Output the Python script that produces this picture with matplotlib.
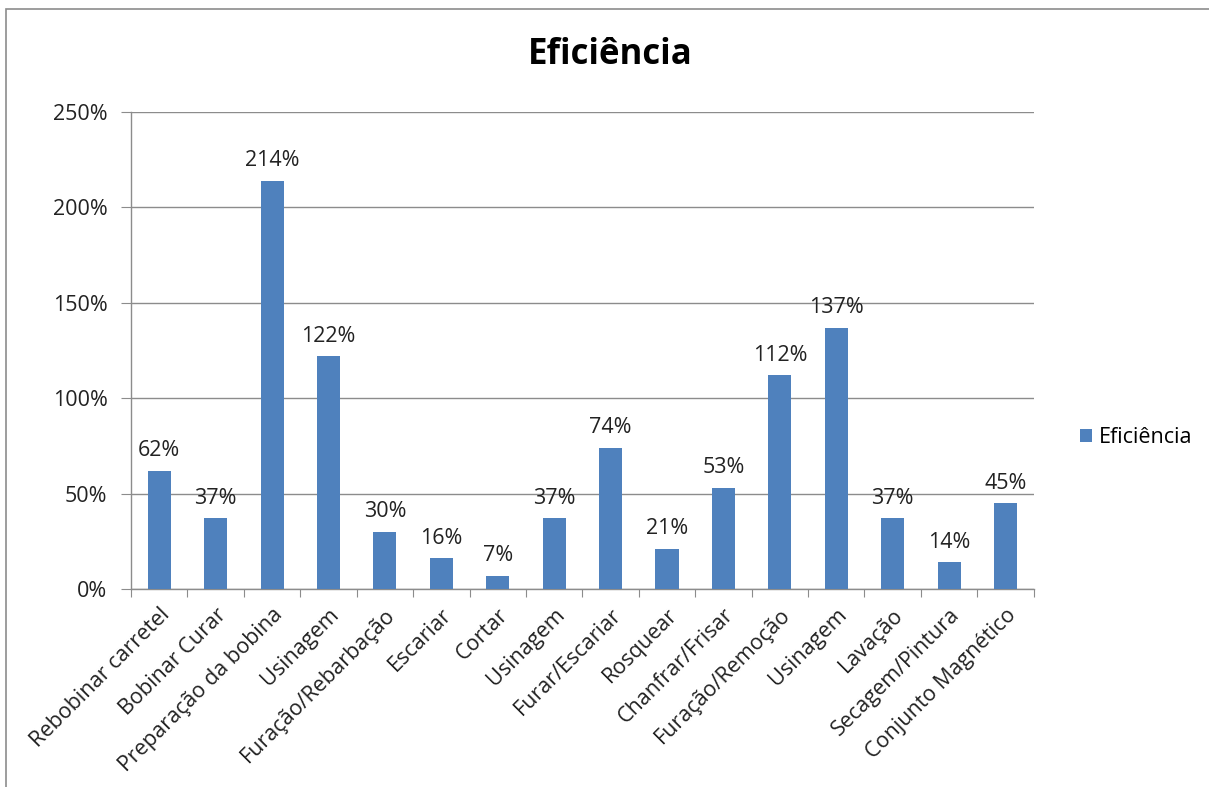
import numpy as np
from matplotlib import pyplot as plt
from matplotlib.patches import Rectangle
from matplotlib.ticker import FuncFormatter

etapas = ['Rebobinar carretel', 'Bobinar Curar', 'Preparação da bobina', 'Usinagem',
          'Furação/Rebarbação', 'Escariar', 'Cortar', 'Usinagem', 'Furar/Escariar',
          'Rosquear', 'Chanfrar/Frisar', 'Furação/Remoção', 'Usinagem', 'Lavação',
          'Secagem/Pintura', 'Conjunto Magnético']
eficiencia = [62, 37, 214, 122, 30, 16, 7, 37, 74, 21, 53, 112, 137, 37, 14, 45]

plt.rcParams['font.family'] = ['Open Sans', 'DejaVu Sans']
FS = 15.5

fig = plt.figure(figsize=(12.09, 7.87), dpi=100)
ax = fig.add_axes([0.1084, 0.2516, 0.7466, 0.6061])

# chart frame (only top/left edges fall inside the image)
fig.patches.append(Rectangle((6 / 1209, -0.1), 1.2, 1 - 9 / 787 + 0.1,
                             transform=fig.transFigure, fill=False,
                             edgecolor='#8c8c8c', linewidth=1.2))

inds = np.arange(len(etapas))
bars = ax.bar(inds, eficiencia, width=0.41, color='#4f81bd', label='Eficiência', zorder=3)

for x, v in zip(inds, eficiencia):
	ax.text(x, v + 5, '%d%%' % v, ha='center', va='bottom', fontsize=FS, color='#222222')

ax.set_xlim(-0.5, len(etapas) - 0.5)
ax.set_ylim(0, 250)
ax.set_yticks(np.arange(0, 251, 50))
ax.yaxis.set_major_formatter(FuncFormatter(lambda v, p: '%d%%' % v))
ax.yaxis.grid(True, color='#8c8c8c', linewidth=1.0, zorder=0)

# ticks sit between categories, labels at category centers
ax.set_xticks(np.arange(-0.5, len(etapas), 1.0))
ax.set_xticklabels([])
ax.set_xticks(inds, minor=True)
ax.set_xticklabels(etapas, minor=True, rotation=45, ha='right', rotation_mode='anchor',
                   fontsize=FS, color='#222222')
ax.tick_params(axis='x', which='minor', length=0, pad=11)
ax.tick_params(axis='x', which='major', length=6, color='#8c8c8c', direction='out')
ax.tick_params(axis='y', length=7, color='#8c8c8c', labelsize=FS, labelcolor='#222222', pad=10)

for s in ['top', 'right']:
	ax.spines[s].set_visible(False)
for s in ['left', 'bottom']:
	ax.spines[s].set_color('#8c8c8c')
	ax.spines[s].set_linewidth(1.0)

fig.text(0.505, 0.93, 'Eficiência', ha='center', va='center', fontsize=25, fontweight='bold')

ax.legend(loc='center left', bbox_to_anchor=(1.03, 0.317), frameon=False, fontsize=FS,
          handlelength=0.55, handleheight=0.55, handletextpad=0.3)

fig.savefig('out.png', dpi=100)
